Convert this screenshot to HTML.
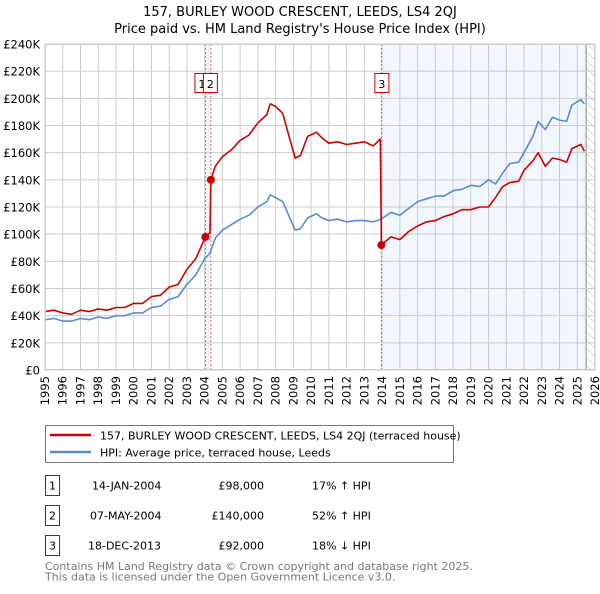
<!DOCTYPE html>
<html><head><meta charset="utf-8"><style>
body{margin:0;background:#fff;width:600px;height:590px;overflow:hidden;font-family:"DejaVu Sans","Liberation Sans",sans-serif}
svg text{font-family:"DejaVu Sans","Liberation Sans",sans-serif}
</style></head><body>
<svg id="chart" width="600" height="590" xmlns="http://www.w3.org/2000/svg">
<defs><pattern id="hatch" width="6" height="6" patternUnits="userSpaceOnUse" patternTransform="rotate(-45)"><line x1="0" y1="0" x2="0" y2="6" stroke="#bbb" stroke-width="1"/></pattern></defs>
<text x="300" y="16" text-anchor="middle" font-size="13">157, BURLEY WOOD CRESCENT, LEEDS, LS4 2QJ</text>
<text x="300" y="33" text-anchor="middle" font-size="13">Price paid vs. HM Land Registry's House Price Index (HPI)</text>
<g id="plot"></g>
<g>
<rect x="45.5" y="425.5" width="408" height="37" fill="#fff" stroke="#777"/>
<line x1="50" y1="435" x2="91" y2="435" stroke="#cc0000" stroke-width="2.5"/>
<text x="100" y="439.5" font-size="11">157, BURLEY WOOD CRESCENT, LEEDS, LS4 2QJ (terraced house)</text>
<line x1="50" y1="452" x2="91" y2="452" stroke="#5b8bd0" stroke-width="2.5"/>
<text x="100" y="456.5" font-size="11">HPI: Average price, terraced house, Leeds</text>
</g>
<g font-size="11">
<rect x="45.5" y="475.5" width="14" height="20" fill="#fff" stroke="#cc0000"/><text x="52.5" y="489.5" text-anchor="middle">1</text>
<text x="92" y="489.5">14-JAN-2004</text><text x="264" y="489.5" text-anchor="end">£98,000</text><text x="312" y="489.5">17% ↑ HPI</text>
<rect x="45.5" y="505.5" width="14" height="20" fill="#fff" stroke="#cc0000"/><text x="52.5" y="519.5" text-anchor="middle">2</text>
<text x="90" y="519.5">07-MAY-2004</text><text x="264" y="519.5" text-anchor="end">£140,000</text><text x="312" y="519.5">52% ↑ HPI</text>
<rect x="45.5" y="535.5" width="14" height="20" fill="#fff" stroke="#cc0000"/><text x="52.5" y="549.5" text-anchor="middle">3</text>
<text x="88" y="549.5">18-DEC-2013</text><text x="264" y="549.5" text-anchor="end">£92,000</text><text x="312" y="549.5">18% ↓ HPI</text>
</g>
<text x="45" y="570" font-size="11" fill="#777">Contains HM Land Registry data © Crown copyright and database right 2025.</text>
<text x="45" y="580.5" font-size="11" fill="#777">This data is licensed under the Open Government Licence v3.0.</text>
</svg>
<script>
const hpiYears=[1995.0,1995.5,1996.0,1996.5,1997.0,1997.5,1998.0,1998.5,1999.0,1999.5,2000.0,2000.5,2001.0,2001.5,2002.0,2002.5,2003.0,2003.5,2004.0,2004.3,2004.6,2005.0,2005.5,2006.0,2006.5,2007.0,2007.5,2007.7,2008.0,2008.4,2008.8,2009.1,2009.4,2009.8,2010.3,2010.6,2011.0,2011.5,2012.0,2012.5,2013.0,2013.5,2013.95,2014.5,2015.0,2015.5,2016.0,2016.5,2017.0,2017.5,2018.0,2018.5,2019.0,2019.5,2020.0,2020.4,2020.8,2021.2,2021.7,2022.0,2022.5,2022.8,2023.2,2023.6,2024.0,2024.4,2024.7,2025.2,2025.4];
const hpiValues=[37,38,36,36,38,37,39,38,40,40,42,42,46,47,52,54,63,70,82,86,97,103,107,111,114,120,124,129,127,124,112,103,104,112,115,112,110,111,109,110,110,109,111,116,114,119,124,126,128,128,132,133,136,135,140,137,145,152,153,160,172,183,177,186,184,183,195,199,196];
const priceYears=[1995.0,1995.5,1996.0,1996.5,1997.0,1997.5,1998.0,1998.5,1999.0,1999.5,2000.0,2000.5,2001.0,2001.5,2002.0,2002.5,2003.0,2003.5,2004.04,2004.3,2004.35,2004.6,2005.0,2005.5,2006.0,2006.5,2007.0,2007.5,2007.7,2008.0,2008.4,2008.8,2009.1,2009.4,2009.8,2010.3,2010.6,2011.0,2011.5,2012.0,2012.5,2013.0,2013.5,2013.9,2013.96,2014.5,2015.0,2015.5,2016.0,2016.5,2017.0,2017.5,2018.0,2018.5,2019.0,2019.5,2020.0,2020.4,2020.8,2021.2,2021.7,2022.0,2022.5,2022.8,2023.2,2023.6,2024.0,2024.4,2024.7,2025.2,2025.4];
const priceValues=[43,44,42,41,44,43,45,44,46,46,49,49,54,55,61,63,74,82,98,101,140,150,157,162,169,173,182,188,196,194,189,170,156,158,172,175,171,167,168,166,167,168,165,170,92,98,96,102,106,109,110,113,115,118,118,120,120,127,135,138,139,147,154,160,150,156,155,153,163,166,161];
const saleYears=[2004.04,2004.35,2013.96];
const saleValues=[98,140,92];
const saleLabels=["1","2","3"];
const yTicks=[0,20,40,60,80,100,120,140,160,180,200,220,240];
const xTicks=[1995,1996,1997,1998,1999,2000,2001,2002,2003,2004,2005,2006,2007,2008,2009,2010,2011,2012,2013,2014,2015,2016,2017,2018,2019,2020,2021,2022,2023,2024,2025,2026];

const X0=45,X1=595,Y0=370,Y1=44;
const xs=y=>X0+(y-1995)/(2026-1995)*(X1-X0);
const ys=v=>Y0-v/240*(Y0-Y1);
const NS="http://www.w3.org/2000/svg";
const g=document.getElementById('plot');
function mk(t,a){const e=document.createElementNS(NS,t);for(const k in a)e.setAttribute(k,a[k]);g.appendChild(e);return e;}

let e=mk('rect',{x:X0,y:Y1,width:X1-X0,height:Y0-Y1,fill:'#fff'});


e=mk('rect',{x:xs(saleYears[0]),y:Y1,width:xs(saleYears[1])-xs(saleYears[0]),height:Y0-Y1,fill:'#eef3fb'});


e=mk('rect',{x:xs(saleYears[2]),y:Y1,width:xs(2025.5)-xs(saleYears[2]),height:Y0-Y1,fill:'#f2f6fd'});


e=mk('rect',{x:xs(2025.5),y:Y1,width:X1-xs(2025.5),height:Y0-Y1,fill:'url(#hatch)'});


mk('line',{x1:xs(2025.5),x2:xs(2025.5),y1:Y1,y2:Y0,stroke:'#888'});

xTicks.forEach(t=>{
  mk('line',{x1:xs(t),x2:xs(t),y1:Y1,y2:Y0,stroke:'#ccc','stroke-width':1});
  const tx=mk('text',{x:0,y:0,'font-size':11.5,'text-anchor':'end',transform:`translate(${xs(t)+4},${Y0+6}) rotate(-90)`});
  tx.textContent=t;
  
  
});
yTicks.forEach(t=>{
  mk('line',{x1:X0,x2:X1,y1:ys(t),y2:ys(t),stroke:'#ccc','stroke-width':1});
  const tx=mk('text',{x:X0-5,y:ys(t)+4.5,'font-size':11.5,'text-anchor':'end'});
  tx.textContent=t===0?'£0':'£'+t+'K';
  
  
});

saleYears.forEach((s,i)=>{
  const l=mk('line',{x1:xs(s),x2:xs(s),y1:Y1,y2:Y0,stroke:'#f06060','stroke-dasharray':'2,2'});
  
  
});

function path(xa,va,col,name){
  const d=xa.map((x,i)=>(i?'L':'M')+xs(x).toFixed(1)+','+ys(va[i]).toFixed(1)).join('');
  const p=mk('path',{d:d,fill:'none',stroke:col,'stroke-width':1.6,'stroke-linejoin':'round'});
  
  
}
path(hpiYears,hpiValues,'#5b8bd0','hpi-line');
path(priceYears,priceValues,'#cc0000','price-paid-line');

saleYears.forEach((s,i)=>{
  const c=mk('circle',{cx:xs(s),cy:ys(saleValues[i]),r:4,fill:'#cc0000'});
  
  
});
const boxX=[xs(saleYears[0])-11,xs(saleYears[1])-8,xs(saleYears[2])-7];
saleLabels.forEach((lab,i)=>{
  const r=mk('rect',{x:boxX[i]+0.5,y:73.5,width:14,height:19,fill:'#fff',stroke:'#cc0000'});
  
  
  const t=mk('text',{x:boxX[i]+7.5,y:88,'font-size':11,'text-anchor':'middle'});
  t.textContent=lab;
  
  
});
mk('rect',{x:X0+0.5,y:Y1+0.5,width:X1-X0-1,height:Y0-Y1-1,fill:'none',stroke:'#ccc'});
</script>
</body></html>
